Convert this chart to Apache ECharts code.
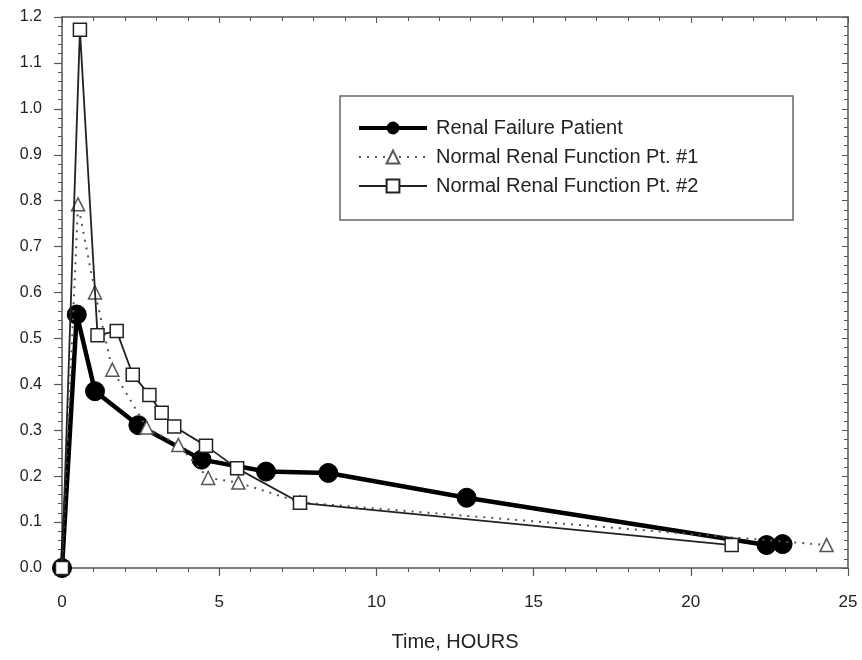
<!DOCTYPE html>
<html>
<head>
<meta charset="utf-8">
<script src="https://cdn.jsdelivr.net/npm/echarts@6/dist/echarts.min.js"></script>
<style>html,body{margin:0;padding:0;background:#fff;}#c{width:862px;height:660px;}</style>
</head>
<body>
<div id="c"></div>
<script>
const seriesNames = ['Renal Failure Patient', 'Normal Renal Function Pt. #1', 'Normal Renal Function Pt. #2'];
const renalX = [0, 0.47, 1.05, 2.43, 4.44, 6.49, 8.47, 12.87, 22.41, 22.92];
const renalY = [0, 0.552, 0.385, 0.311, 0.236, 0.210, 0.207, 0.153, 0.050, 0.052];
const normal1X = [0, 0.51, 1.05, 1.60, 2.69, 3.70, 4.65, 5.61, 7.57, 24.32];
const normal1Y = [0, 0.792, 0.600, 0.432, 0.306, 0.268, 0.196, 0.186, 0.143, 0.050];
const normal2X = [0, 0.57, 1.13, 1.74, 2.25, 2.78, 3.17, 3.57, 4.58, 5.57, 7.57, 21.30];
const normal2Y = [0, 1.172, 0.507, 0.516, 0.421, 0.377, 0.338, 0.308, 0.266, 0.217, 0.142, 0.050];
const xTicks = [0, 5, 10, 15, 20, 25];
const yTicks = [0.0, 0.1, 0.2, 0.3, 0.4, 0.5, 0.6, 0.7, 0.8, 0.9, 1.0, 1.1, 1.2];

const pairs = (xs, ys) => xs.map((x, i) => [x, ys[i]]);
const FONT = '"Liberation Sans", Arial, sans-serif';
const AX = '#555';

const chart = echarts.init(document.getElementById('c'), null, {renderer: 'canvas'});
const baseX = {
  type: 'value', min: xTicks[0], max: xTicks[xTicks.length - 1], interval: 5,
  splitLine: {show: false},
  axisLine: {show: true, onZero: false, lineStyle: {color: AX, width: 1.5}},
  minorTick: {show: true, splitNumber: 5, length: 4, lineStyle: {color: AX, width: 1}},
  minorSplitLine: {show: false}
};
const baseY = {
  type: 'value', min: yTicks[0], max: yTicks[yTicks.length - 1], interval: 0.1,
  splitLine: {show: false},
  axisLine: {show: true, onZero: false, lineStyle: {color: AX, width: 1.5}},
  minorTick: {show: true, splitNumber: 5, length: 4, lineStyle: {color: AX, width: 1}},
  minorSplitLine: {show: false}
};

chart.setOption({
  animation: false,
  backgroundColor: '#fff',
  grid: {left: 62, right: 14, top: 17, bottom: 92, containLabel: false},
  xAxis: [
    Object.assign({}, baseX, {
      position: 'bottom',
      name: 'Time, HOURS', nameLocation: 'middle', nameGap: 64,
      nameTextStyle: {fontFamily: FONT, fontSize: 20, color: '#222'},
      axisTick: {show: true, inside: false, length: 8, lineStyle: {color: AX, width: 1.2}},
      axisLabel: {fontFamily: FONT, fontSize: 17, color: '#222', margin: 26}
    }),
    Object.assign({}, baseX, {
      position: 'top',
      axisTick: {show: true, inside: true, length: 6, lineStyle: {color: AX, width: 1}},
      minorTick: {show: true, splitNumber: 5, length: 4, lineStyle: {color: AX, width: 1}},
      axisLabel: {show: false}
    })
  ],
  yAxis: [
    Object.assign({}, baseY, {
      position: 'left',
      axisTick: {show: true, inside: false, length: 8, lineStyle: {color: AX, width: 1.2}},
      axisLabel: {fontFamily: FONT, fontSize: 16, color: '#222', margin: 20,
        formatter: v => v.toFixed(1)}
    }),
    Object.assign({}, baseY, {
      position: 'right',
      axisTick: {show: true, inside: true, length: 6, lineStyle: {color: AX, width: 1}},
      minorTick: {show: true, splitNumber: 5, length: 4, lineStyle: {color: AX, width: 1}},
      axisLabel: {show: false}
    })
  ],
  graphic: [{
    type: 'rect', shape: {x: 340, y: 96, width: 453, height: 124},
    style: {fill: '#fff', stroke: '#666', lineWidth: 1.5}, z: 10
  }],
  legend: {
    show: true, orient: 'vertical', left: 352, top: 113,
    itemWidth: 68, itemHeight: 16, itemGap: 9,
    textStyle: {fontFamily: FONT, fontSize: 20, color: '#222', padding: [0, 0, 0, 4]},
    data: [
      {name: seriesNames[0], lineStyle: {width: 4}},
      {name: seriesNames[1]},
      {name: seriesNames[2]}
    ],
    z: 20
  },
  series: [
    {
      name: seriesNames[0], type: 'line', data: pairs(renalX, renalY),
      symbol: 'circle', symbolSize: 19,
      itemStyle: {color: '#000', borderColor: '#000'},
      lineStyle: {color: '#000', width: 4.5}, z: 3
    },
    {
      name: seriesNames[1], type: 'line', data: pairs(normal1X, normal1Y),
      symbol: 'triangle', symbolSize: 13,
      itemStyle: {color: '#fff', borderColor: '#555', borderWidth: 1.5},
      lineStyle: {color: '#555', width: 2, type: [2, 6]}, z: 4
    },
    {
      name: seriesNames[2], type: 'line', data: pairs(normal2X, normal2Y),
      symbol: 'rect', symbolSize: 13,
      itemStyle: {color: '#fff', borderColor: '#222', borderWidth: 1.5},
      lineStyle: {color: '#222', width: 1.8}, z: 5
    }
  ]
});
</script>
</body>
</html>
